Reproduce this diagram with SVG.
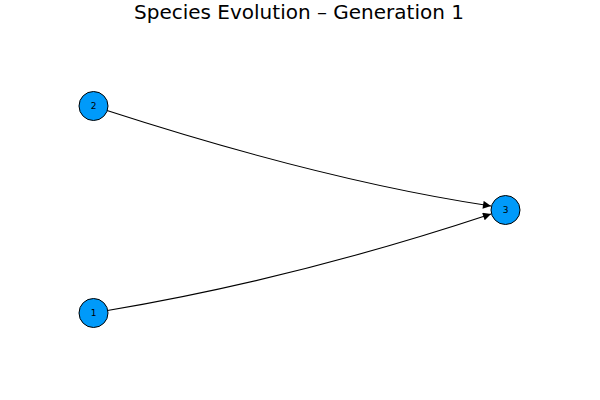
<svg xmlns="http://www.w3.org/2000/svg" width="600" height="400" viewBox="0 0 600 400">
<defs>
<style>
.node circle{fill:#009AFA;stroke:#000;stroke-width:1}
.node text{font-family:"DejaVu Sans",sans-serif;font-size:9px;fill:#000;text-anchor:middle}
.edge{fill:none;stroke:#000;stroke-width:1.1}
.title{font-family:"DejaVu Sans",sans-serif;font-size:20px;fill:#000;text-anchor:middle}
</style>
<marker id="arrow" viewBox="0 0 10 10" refX="10" refY="5" markerWidth="9" markerHeight="8" markerUnits="userSpaceOnUse" orient="auto">
<path d="M0,0 L10,5 L0,10 Z" fill="#000"/>
</marker>
</defs>
<rect width="600" height="400" fill="#fff"/>
<text class="title" x="299" y="19">Species Evolution – Generation 1</text>
<g id="connectors">
<path class="edge" d="M107,110.5 Q325,181 491,206" marker-end="url(#arrow)"/>
<path class="edge" d="M107.5,310.5 Q295,279 491,214" marker-end="url(#arrow)"/>
</g>
<g id="node2" class="node"><circle cx="93.5" cy="106" r="14.5"/><text x="93.5" y="109.3">2</text></g>
<g id="node1" class="node"><circle cx="93.5" cy="313" r="14.5"/><text x="93.5" y="316.3">1</text></g>
<g id="node3" class="node"><circle cx="505.5" cy="210" r="14.5"/><text x="505.5" y="213.3">3</text></g>
</svg>
